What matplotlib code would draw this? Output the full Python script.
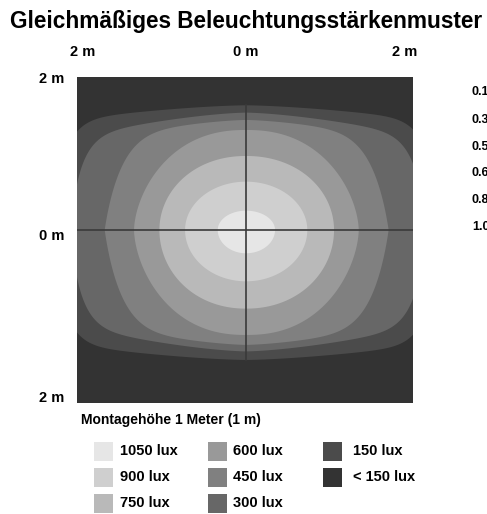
import numpy as np
import matplotlib.pyplot as plt
from matplotlib.patches import Polygon, Rectangle

plt.rcParams['font.family'] = ['Liberation Sans', 'DejaVu Sans']
plt.rcParams['font.weight'] = 'bold'

# Stufen der Beleuchtungsstärke (innen -> außen)
labels = ["1050 lux", "900 lux", "750 lux", "600 lux", "450 lux", "300 lux", "150 lux", "< 150 lux"]
colors = ["#e6e6e6", "#cfcfcf", "#b9b9b9", "#999999", "#808080", "#676767", "#4b4b4b", "#333333"]

# Ausdehnung jeder Isolinie in Metern (links, rechts, oben, unten)
ext_left = [0.347, 0.748, 1.063, 1.374, 1.759, 2.15, 2.35]
ext_right = [0.356, 0.752, 1.080, 1.383, 1.775, 2.20, 2.35]
ext_top = [0.237, 0.593, 0.908, 1.227, 1.350, 1.440, 1.530]
ext_bottom = [0.286, 0.630, 0.965, 1.288, 1.410, 1.490, 1.595]
# Formparameter der Kurven (Exponent x, Exponent y, Wölbung oben/unten)
shape_x = [2.0, 2.0, 2.1, 2.3, 7.2, 12.0, 13.0]
shape_y = [2.0, 2.0, 2.0, 1.7, 1.3, 2.0, 2.0]
bend = [0.0, 0.0, 0.0, 0.0, 0.17, 0.215, 0.13]

x_ticks = [-2.0, 0.0, 1.95]
x_ticklabels = ["2 m", "0 m", "2 m"]
y_ticks = [1.865, -0.06, -2.04]
y_ticklabels = ["2 m", "0 m", "2 m"]

side_labels = ["0.1", "0.3", "0.5", "0.6", "0.8", "1.0"]

W, H = 487, 514
fig = plt.figure(figsize=(W / 100, H / 100), dpi=100)


def fx(px):
    return px / W


def fy(py):
    return 1 - py / H


ax = fig.add_axes([fx(77), fy(403), fx(413) - fx(77), fy(77) - fy(403)])
ax.set_facecolor(colors[-1])
ax.set_xlim(-2.074, 2.049)
ax.set_ylim(-2.123, 1.877)


def outline(wl, wr, ht, hb, a, b, k, n=720):
    # Radius je Winkel per Bisektion suchen, bis die Kurve erreicht ist
    t = np.linspace(0, 2 * np.pi, n)
    dx, dy = np.cos(t), np.sin(t)
    lo = np.zeros(n)
    hi = np.full(n, 5.0)
    for _ in range(50):
        r = (lo + hi) / 2
        x, y = r * dx, r * dy
        w = np.where(x < 0, wl, wr)
        h = np.where(y > 0, ht, hb)
        u = np.abs(x / w)
        f = u ** a + (np.abs(y) / h + k * u ** 1.5) ** b
        inside = f < 1
        lo = np.where(inside, r, lo)
        hi = np.where(inside, hi, r)
    return np.column_stack([lo * dx, lo * dy])


for i in reversed(range(len(ext_left))):
    pts = outline(ext_left[i], ext_right[i], ext_top[i], ext_bottom[i],
                  shape_x[i], shape_y[i], bend[i])
    ax.add_patch(Polygon(pts, closed=True, facecolor=colors[i], edgecolor="none"))

# Fadenkreuz
ax.axhline(0, color="#3a3a3a", lw=1.2)
ax.plot([0, 0], [-ext_bottom[-1], ext_top[-1]], color="#3a3a3a", lw=1.2)

for sp in ax.spines.values():
    sp.set_visible(False)
ax.xaxis.tick_top()
ax.set_xticks(x_ticks)
ax.set_xticklabels(x_ticklabels, fontsize=10.5, fontweight="bold")
ax.set_yticks(y_ticks)
ax.set_yticklabels(y_ticklabels, fontsize=10.5, fontweight="bold")
ax.tick_params(axis="y", length=0, pad=9)
ax.tick_params(axis="x", length=0, pad=13)

fig.text(fx(246), fy(28), "Gleichmäßiges Beleuchtungsstärkenmuster", ha="center", va="baseline",
         fontsize=16.3, fontweight="bold")

fig.text(fx(81), fy(420), "Montagehöhe 1 Meter (1 m)", ha="left", va="center",
         fontsize=10, fontweight="bold")

# Legende
col_x = [94, 208, 323]
text_x = [120, 233, 353]
row_y = [451, 477, 503]
for i, lab in enumerate(labels):
    col, row = divmod(i, 3)
    fig.add_artist(Rectangle((fx(col_x[col]), fy(row_y[row] + 9.5)), 19 / W, 19 / H,
                             facecolor=colors[i], edgecolor="none", transform=fig.transFigure))
    fig.text(fx(text_x[col]), fy(row_y[row]), lab, ha="left", va="center",
             fontsize=10.5, fontweight="bold")

side_y = [92, 120, 147, 173, 200, 227]
for lab, py in zip(side_labels, side_y):
    fig.text(fx(472), fy(py), lab, ha="left", va="center", fontsize=9, fontweight="bold")

fig.savefig("out.png", dpi=100, facecolor="white")
